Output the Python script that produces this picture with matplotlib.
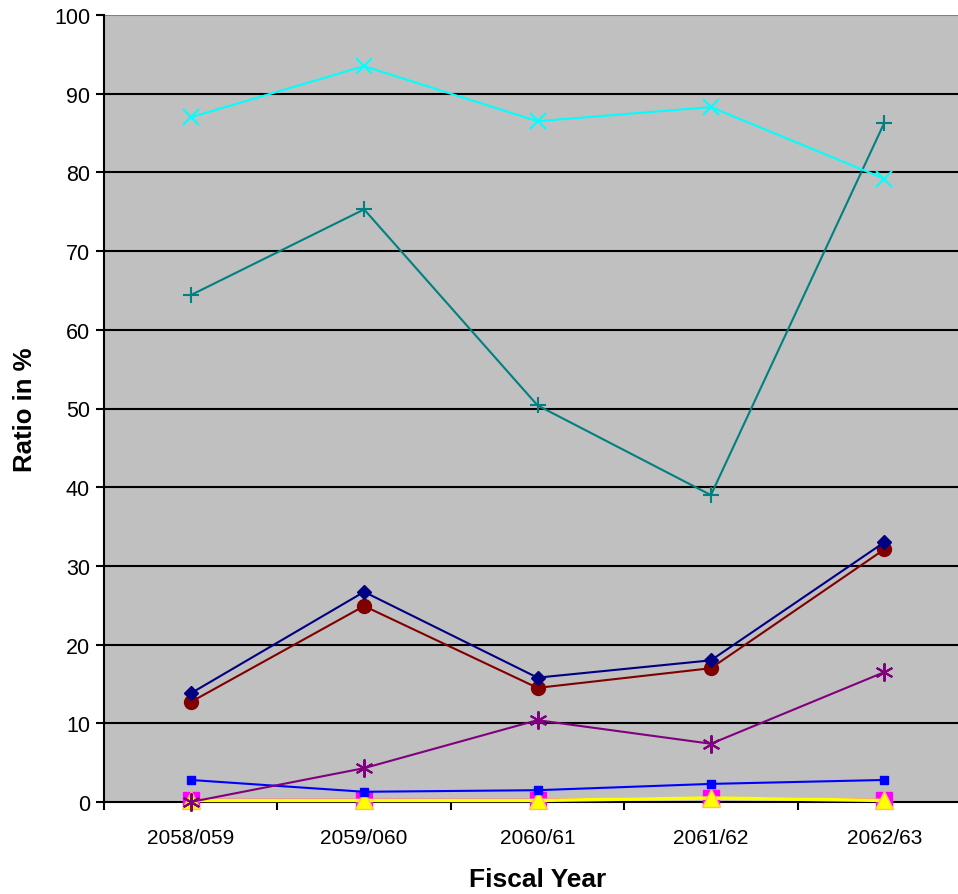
import matplotlib
matplotlib.use("Agg")
import matplotlib.pyplot as plt
import numpy as np

years = ["2058/059", "2059/060", "2060/61", "2061/62", "2062/63"]
cyan_x = [87.0, 93.5, 86.5, 88.3, 79.2]
teal_plus = [64.4, 75.3, 50.4, 39.0, 86.3]
navy_diamond = [13.8, 26.7, 15.8, 18.0, 33.0]
red_circle = [12.7, 24.9, 14.5, 17.0, 32.1]
purple_star = [0.0, 4.3, 10.4, 7.4, 16.5]
blue_square = [2.8, 1.3, 1.5, 2.3, 2.8]
magenta_square = [0.3, 0.3, 0.3, 0.5, 0.3]
yellow_tri = [0.2, 0.2, 0.2, 0.5, 0.2]

plt.rcParams["font.family"] = ["Liberation Sans", "DejaVu Sans"]

fig = plt.figure(figsize=(9.58, 8.95), dpi=100)
ax = fig.add_axes([104 / 958, 1 - 803 / 895, (971 - 104) / 958, (803 - 16) / 895])
ax.set_facecolor("#C0C0C0")

x = np.arange(len(years))
lw = 1.5
ax.plot(x, magenta_square, color="#FF00FF", lw=lw, marker="s", ms=11,
        mfc="#FF00FF", mec="#FF00FF", zorder=3, clip_on=False)
ax.plot(x, yellow_tri, color="#FFFF00", lw=2.5, marker="^", ms=13,
        mfc="#FFFF00", mec="#FFC060", mew=1.0, zorder=4, clip_on=False)
ax.plot(x, blue_square, color="#0000FF", lw=lw, marker="s", ms=6,
        mfc="#0000FF", mec="#0000FF", zorder=5, clip_on=False)
ax.plot(x, purple_star, color="#800080", lw=lw, marker=(6, 2, 0), ms=13,
        mew=1.5, mec="#800080", zorder=6, clip_on=False)
ax.plot(x, red_circle, color="#800000", lw=lw, marker="o", ms=10,
        mfc="#800000", mec="#800000", zorder=7)
ax.plot(x, navy_diamond, color="#000080", lw=lw, marker="D", ms=7,
        mfc="#000080", mec="#000080", zorder=8)
ax.plot(x, teal_plus, color="#008080", lw=lw, marker="+", ms=12,
        mew=1.5, zorder=9)
ax.plot(x, cyan_x, color="#00FFFF", lw=lw, marker="x", ms=11,
        mew=1.5, zorder=10)

ax.set_xlim(-0.5, len(years) - 0.5)
ax.set_ylim(0, 100)
ax.set_yticks(np.arange(0, 101, 10))
ax.set_xticks(x)
ax.set_xticklabels(years)
ax.set_xticks(np.arange(-0.5, len(years), 1), minor=True)

for yv in range(10, 100, 10):
    ax.axhline(yv, color="black", lw=1.5, zorder=1)
ax.axhline(100, color="#808080", lw=1.5, zorder=1)

for side in ["top", "right"]:
    ax.spines[side].set_visible(False)
ax.spines["left"].set_linewidth(1.5)
ax.spines["bottom"].set_linewidth(1.5)
ax.spines["bottom"].set_zorder(2)

ax.tick_params(axis="y", length=6, width=1.5, labelsize=15.5, pad=4)
ax.tick_params(axis="x", which="major", length=0, labelsize=15, pad=19)
ax.tick_params(axis="x", which="minor", length=6, width=1.5)

ax.set_ylabel("Ratio in %", fontsize=18.5, fontweight="bold")
ax.yaxis.set_label_coords(-(104 - 25) / (971 - 104), 0.5)
ax.yaxis.label.set_va("center")
ax.set_xlabel("Fiscal Year", fontsize=19, fontweight="bold")
ax.xaxis.set_label_coords((538 - 104) / (971 - 104), -(880 - 803) / (803 - 16))
ax.xaxis.label.set_va("center")

fig.savefig("out.png", dpi=100)
